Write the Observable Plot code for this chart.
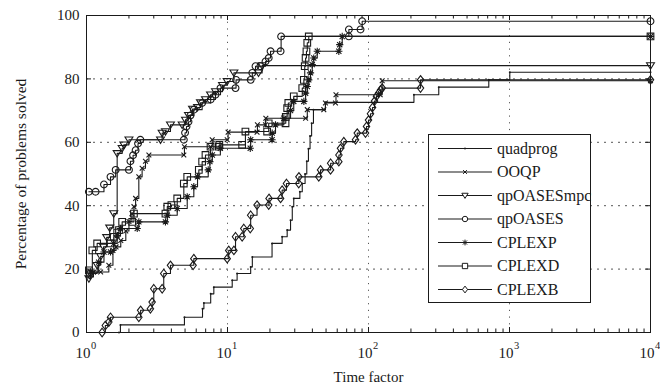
<!DOCTYPE html>
<html><head><meta charset="utf-8">
<script src="https://cdn.jsdelivr.net/npm/d3@7"></script>
<script src="https://cdn.jsdelivr.net/npm/@observablehq/plot@0.6"></script>
<style>
html,body{margin:0;padding:0;background:#fff;}
#chart{width:660px;height:388px;}
</style></head>
<body><div id="chart"></div>
<script>
// ---------- data (time factor, percentage of problems solved) ----------
const seriesNames = ["quadprog","OOQP","qpOASESmpc","qpOASES","CPLEXP","CPLEXD","CPLEXB"];
const xMajor = [1, 10, 100, 1000, 10000];
const xExponents = ["0","1","2","3","4"];
const yTicks = [0, 20, 40, 60, 80, 100];
const xLabel = "Time factor";
const yLabel = "Percentage of problems solved";

const quadprog = [[1.70,0],[1.74,2.4],[4.95,4.8],[6.65,7.5],[6.8,9.3],[7.6,12.2],[8.0,14.3],[10.8,16.5],[11.7,18.6],[14.6,20.7],[15.0,23.8],[20.7,28.1],[24.4,30.2],[26.5,32.3],[28.0,35.4],[28.8,39.7],[29.5,42.3],[32.6,44.4],[33.9,47.0],[35.5,50.0],[36.5,54.0],[37.5,58.0],[38.5,62.0],[39.5,66.0],[40.7,70.3],[49.5,72.6],[210,75.0],[315,77.4],[713,79.7],[1005,82.1],[10000,82.1]];
const OOQP = [[1.03,17.5],[1.12,19.0],[1.26,19.1],[1.44,21.2],[1.54,25.9],[1.62,27.0],[1.75,29.0],[1.90,32.0],[2.00,35.0],[2.10,37.5],[2.17,39.7],[2.23,42.3],[2.35,49.1],[2.48,51.8],[2.62,54.0],[2.77,56.0],[4.90,56.0],[4.95,58.6],[7.58,58.6],[7.79,60.8],[9.95,60.8],[10.1,63.2],[16.2,63.2],[16.3,65.5],[18.6,65.5],[18.7,67.6],[35.8,67.6],[36.8,70.3],[48.2,70.3],[49.5,72.4],[58.3,72.4],[58.8,75.0],[121,75.0],[125,79.4],[10000,79.4]];
const qpOASESmpc = [[1.04,17.0],[1.07,18.6],[1.19,21.2],[1.26,24.0],[1.32,27.0],[1.39,30.0],[1.46,33.0],[1.56,37.5],[1.65,56.5],[1.79,58.1],[1.84,59.2],[2.0,60.8],[3.35,60.8],[3.44,62.9],[3.63,63.4],[3.94,65.5],[4.77,65.5],[5.04,67.0],[5.29,68.5],[5.65,70.5],[6.13,71.0],[6.43,72.5],[6.98,73.5],[7.58,75.0],[8.22,76.0],[9.22,78.0],[9.95,79.2],[11.1,81.9],[16.6,81.9],[17.6,84.2],[10000,84.2]];
const qpOASES = [[1.04,44.4],[1.16,44.4],[1.33,46.7],[1.48,49.1],[1.61,51.3],[2.0,51.3],[2.05,54.0],[2.14,55.9],[2.23,57.5],[2.32,59.6],[2.41,60.8],[4.90,60.8],[5.0,63.0],[5.12,65.0],[5.29,66.5],[5.47,68.5],[5.77,70.3],[6.61,72.4],[7.6,73.5],[8.22,75.0],[8.92,77.1],[11.4,77.1],[11.5,79.7],[14.6,79.7],[15.0,81.9],[15.8,84.0],[17.1,84.0],[18.6,85.5],[19.6,86.6],[20.2,88.7],[23.8,88.7],[24.0,93.4],[72.5,93.4],[72.6,95.6],[87.8,95.6],[90.2,98.2],[10000,98.2]];
const CPLEXP = [[1.07,19.1],[1.22,22.2],[1.33,25.4],[1.48,25.4],[1.56,28.1],[1.65,30.5],[1.74,32.8],[2.29,32.8],[2.35,34.9],[3.63,34.9],[3.74,37.0],[4.40,39.1],[5.18,42.8],[5.77,46.0],[6.13,49.1],[7.3,51.3],[7.5,53.9],[7.8,56.0],[8.9,58.1],[14.5,58.1],[14.6,60.8],[20.7,60.8],[20.75,62.9],[21.9,65.5],[25.1,67.6],[28.0,70.0],[29.5,72.9],[34.8,72.9],[35.8,75.5],[36.8,77.6],[37.7,79.7],[38.8,81.9],[39.9,84.5],[40.9,86.6],[43.3,88.7],[61.6,88.7],[62.5,90.8],[65.1,93.4],[10000,93.4]];
const CPLEXD = [[1.04,19.6],[1.10,25.9],[1.19,28.1],[1.48,28.1],[1.56,30.2],[1.65,31.5],[1.70,32.3],[1.79,34.9],[2.11,34.9],[2.17,37.5],[3.63,37.5],[3.74,39.7],[4.0,40.2],[4.40,42.3],[4.90,47.0],[5.18,49.1],[6.26,51.3],[6.61,53.9],[6.98,56.0],[7.58,58.6],[8.68,58.6],[8.75,59.2],[12.7,59.2],[13.4,63.4],[19.1,63.4],[19.6,66.0],[25.8,66.0],[25.9,68.0],[26.5,70.8],[27.0,72.4],[29.5,74.5],[33.9,77.1],[34.8,79.7],[35.3,84.0],[35.8,86.6],[36.3,88.7],[36.8,91.4],[37.7,93.4],[10000,93.4]];
const CPLEXB = [[1.29,0],[1.36,2.2],[1.44,3.3],[1.48,4.8],[2.35,4.8],[2.42,7.0],[2.84,7.5],[2.92,9.6],[3.0,13.8],[3.44,13.8],[3.53,18.6],[3.94,21.2],[5.70,21.2],[5.77,23.3],[9.95,23.3],[10.2,25.9],[11.1,25.9],[11.4,30.2],[12.7,30.2],[13.05,32.8],[14.5,32.8],[14.6,37.0],[16.2,40.2],[19.6,40.2],[19.7,42.3],[23.8,42.3],[24.4,44.9],[26.2,47.0],[32.0,47.0],[32.1,49.1],[44.4,49.1],[45.7,51.3],[53.8,51.3],[53.9,53.4],[61.6,53.9],[61.7,56.0],[63.3,58.1],[66.8,60.2],[80.9,60.8],[83.2,62.9],[95.2,62.9],[96.8,65.0],[100,67.0],[103.3,69.0],[106.8,71.0],[110.3,73.0],[113.9,74.5],[117.7,75.5],[121.7,76.5],[125.1,77.1],[233.8,77.1],[234,79.7],[10000,79.7]];

// ---------- marker shapes (MATLAB-like) ----------
const rad = s => Math.sqrt(s / Math.PI);
const symDot = {draw(c, s){ const r = rad(s); c.moveTo(r,0); c.arc(0,0,r,0,2*Math.PI); }};
const symCircle = symDot;
const symTriDown = {draw(c, s){ const r = rad(s); c.moveTo(0, r*1.1); c.lineTo(-r*1.2, -r*0.85); c.lineTo(r*1.2, -r*0.85); c.closePath(); }};
const symSquare = {draw(c, s){ const r = rad(s)*0.95; c.moveTo(-r,-r); c.lineTo(r,-r); c.lineTo(r,r); c.lineTo(-r,r); c.closePath(); }};
const symDiamond = {draw(c, s){ const r = rad(s); c.moveTo(0,-r*1.25); c.lineTo(r*0.95,0); c.lineTo(0,r*1.25); c.lineTo(-r*0.95,0); c.closePath(); }};
const symAsterisk = {draw(c, s){ const r = rad(s); const d = r*0.72;
  c.moveTo(-r,0); c.lineTo(r,0); c.moveTo(0,-r); c.lineTo(0,r);
  c.moveTo(-d,-d); c.lineTo(d,d); c.moveTo(-d,d); c.lineTo(d,-d); }};
const symTimes = {draw(c, s){ const r = rad(s)*0.75; c.moveTo(-r,-r); c.lineTo(r,r); c.moveTo(-r,r); c.lineTo(r,-r); }};

const ink = "#1a1a1a";
const series = [
  {name: seriesNames[0], data: quadprog,   sym: symDot,      r: 1.0, filled: true},
  {name: seriesNames[1], data: OOQP,       sym: symTimes,    r: 3.2},
  {name: seriesNames[2], data: qpOASESmpc, sym: symTriDown,  r: 3.3},
  {name: seriesNames[3], data: qpOASES,    sym: symCircle,   r: 3.4},
  {name: seriesNames[4], data: CPLEXP,     sym: symAsterisk, r: 3.6},
  {name: seriesNames[5], data: CPLEXD,     sym: symSquare,   r: 3.5},
  {name: seriesNames[6], data: CPLEXB,     sym: symDiamond,  r: 3.4}
];

const W = 660, H = 388, ML = 86, MR = 10, MT = 15, MB = 56;
const FW = W - ML - MR, FH = H - MT - MB;
const xMinor = [];
for (let k = 0; k < 4; k++) for (let m = 2; m <= 9; m++) xMinor.push(m * Math.pow(10, k));
const gridX = xMajor.slice(1, -1), gridY = yTicks.slice(1, -1);

const marks = [
  Plot.gridY(gridY, {stroke: "#444", strokeOpacity: 1, strokeWidth: 0.9, strokeDasharray: "2,5"}),
  Plot.gridX(gridX, {stroke: "#444", strokeOpacity: 1, strokeWidth: 0.9, strokeDasharray: "1.2,5.5"}),
  // inward ticks
  Plot.tickX(xMajor, {x: d => d, insetTop: FH - 5, stroke: ink}),
  Plot.tickX(xMajor, {x: d => d, insetBottom: FH - 5, stroke: ink}),
  Plot.tickX(xMinor, {x: d => d, insetTop: FH - 3.5, stroke: ink}),
  Plot.tickX(xMinor, {x: d => d, insetBottom: FH - 3.5, stroke: ink}),
  Plot.tickY(yTicks, {y: d => d, insetRight: FW - 5, stroke: ink}),
  Plot.tickY(yTicks, {y: d => d, insetLeft: FW - 5, stroke: ink}),
];
for (const s of series) {
  marks.push(Plot.line(s.data, {x: d => d[0], y: d => d[1], curve: "step-after", stroke: ink, strokeWidth: 1.1}));
}
for (const s of series) {
  marks.push(Plot.dot(s.data, {x: d => d[0], y: d => d[1], symbol: s.sym, r: s.r,
    fill: s.filled ? ink : "none", stroke: s.filled ? null : ink, strokeWidth: 1.1}));
}
marks.push(
  Plot.frame({stroke: ink, strokeWidth: 1}),
  Plot.text(xMajor, {x: d => d, frameAnchor: "bottom", text: () => "10", textAnchor: "end", dx: 4, dy: 25, lineAnchor: "bottom", fontSize: 15, fill: ink}),
  Plot.text(xMajor, {x: d => d, frameAnchor: "bottom", text: (d, i) => xExponents[i], textAnchor: "start", dx: 4.5, dy: 16.5, lineAnchor: "bottom", fontSize: 10.5, fill: ink}),
  Plot.text(yTicks, {y: d => d, frameAnchor: "left", text: d => String(d), textAnchor: "end", dx: -7, fontSize: 15, fill: ink}),
  Plot.text([xLabel], {frameAnchor: "bottom", textAnchor: "middle", dy: 49.5, lineAnchor: "bottom", fontSize: 15, fill: ink}),
  Plot.text([yLabel], {frameAnchor: "left", textAnchor: "middle", dx: -65, rotate: -90, fontSize: 15.5, fill: ink})
);

const plot = Plot.plot({
  width: W, height: H,
  marginLeft: ML, marginRight: MR, marginTop: MT, marginBottom: MB,
  x: {type: "log", domain: [1, 10000], axis: null},
  y: {domain: [0, 100], axis: null},
  style: {background: "#fff", color: ink, fontFamily: "'Liberation Serif', 'Times New Roman', serif", overflow: "visible"},
  marks
});
document.getElementById("chart").appendChild(plot);

// ---------- legend (inside the axes, lower right) ----------
const svg = d3.select(plot);
const lg = svg.append("g").attr("font-family", "'Liberation Serif', 'Times New Roman', serif")
  .attr("font-size", 16).attr("fill", ink).attr("text-anchor", "start");
lg.append("rect").attr("x", 428.5).attr("y", 134.5).attr("width", 162).attr("height", 168)
  .attr("fill", "#fff").attr("stroke", ink).attr("stroke-width", 1);
series.forEach((s, i) => {
  const y = 148.5 + i * 23.5;
  lg.append("line").attr("x1", 438).attr("x2", 492).attr("y1", y).attr("y2", y).attr("stroke", ink).attr("stroke-width", 1.1);
  const size = Math.PI * Math.pow(s.filled ? 0.9 : s.r * 0.8, 2);
  lg.append("path").attr("transform", `translate(465,${y})`)
    .attr("d", d3.symbol(s.sym, size)())
    .attr("fill", s.filled ? ink : "#fff").attr("stroke", s.filled ? "none" : ink).attr("stroke-width", 1);
  lg.append("text").attr("x", 497).attr("y", y).attr("dy", "0.33em").attr("text-anchor", "start").text(s.name);
});
</script>
</body></html>
